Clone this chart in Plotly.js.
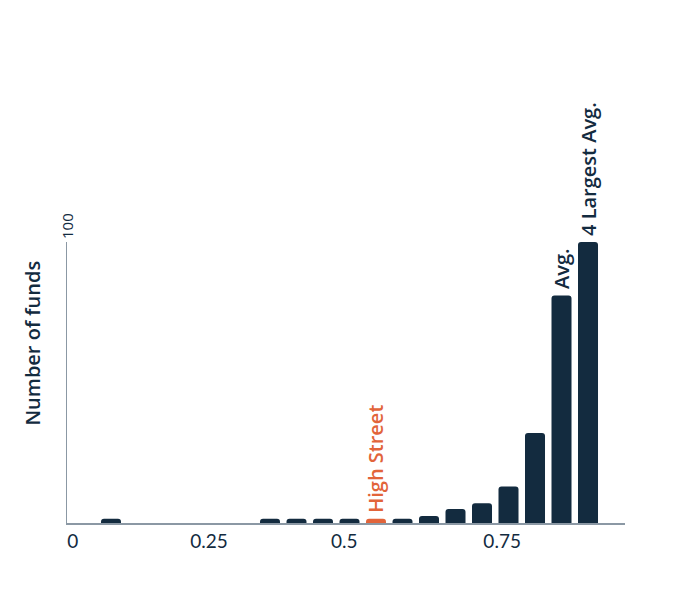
<!DOCTYPE html>
<html>
<head>
<meta charset="utf-8">
<script src="https://cdn.plot.ly/plotly-3.0.1.min.js"></script>
<style>
  html, body { margin: 0; padding: 0; background: #ffffff; }
  #chart { width: 680px; height: 615px; }
</style>
</head>
<body>
<div id="chart"></div>
<script>
// fee bins (bar centres) and number of funds in each
let bins = [0.05, 0.35, 0.40, 0.45, 0.50, 0.55, 0.60, 0.65, 0.70, 0.75, 0.80, 0.85, 0.90, 0.95];
let counts = [1.5, 1.5, 1.5, 1.5, 1.5, 1.5, 1.5, 2.5, 5, 7, 13, 32, 81, 100];
let bar_labels = ['', '', '', '', '', 'High Street', '', '', '', '', '', '', 'Avg.', '4 Largest Avg.'];

// tick labels as drawn under the axis
let tick_values = [-0.022, 0.235, 0.49, 0.788];
let tick_labels = ['0', '0.25', '0.5', '0.75'];

let navy = '#132b3f';
let orange = '#e2643a';
let axis_grey = '#8b98a4';
let label_font = '"Open Sans", sans-serif';

let bar_colors = bar_labels.map(function (l) { return l === 'High Street' ? orange : navy; });

let bars = {
    type: 'bar',
    x: bins,
    y: counts,
    marker: { color: bar_colors, cornerradius: 3 },
    hoverinfo: 'x+y',
    showlegend: false
};

let annotations = [];
for (let i = 0; i < bins.length; ++i) {
    if (bar_labels[i] === '') continue;
    annotations.push({
        x: bins[i],
        y: counts[i],
        xref: 'x',
        yref: 'y',
        text: bar_labels[i],
        textangle: -90,
        showarrow: false,
        xanchor: 'center',
        yanchor: 'bottom',
        yshift: 4,
        font: { family: label_font, size: 20, color: bar_colors[i], weight: 600 }
    });
}

// top value of the y axis, drawn above the axis line
annotations.push({
    x: 0,
    y: 100,
    xref: 'paper',
    yref: 'y',
    text: '100',
    textangle: -90,
    showarrow: false,
    xanchor: 'center',
    yanchor: 'bottom',
    yshift: 1,
    font: { family: label_font, size: 15, color: navy }
});

// axis title
annotations.push({
    x: -0.062,
    y: 0.64,
    xref: 'paper',
    yref: 'paper',
    text: 'Number of funds',
    textangle: -90,
    showarrow: false,
    xanchor: 'center',
    yanchor: 'middle',
    font: { family: label_font, size: 20, color: navy, weight: 600 }
});

let layout = {
    width: 680,
    height: 615,
    margin: { l: 67, r: 55, t: 242, b: 92 },
    paper_bgcolor: '#ffffff',
    plot_bgcolor: '#ffffff',
    bargap: 0.245,
    xaxis: {
        range: [-0.033, 1.0198],
        tickvals: tick_values,
        ticktext: tick_labels,
        ticks: '',
        ticklabelstandoff: 1,
        showgrid: false,
        zeroline: false,
        showline: true,
        linecolor: axis_grey,
        linewidth: 1.5,
        tickfont: { family: 'Lato, sans-serif', size: 19, color: navy }
    },
    yaxis: {
        range: [0, 100],
        showticklabels: false,
        ticks: '',
        showgrid: false,
        zeroline: false,
        showline: true,
        linecolor: axis_grey,
        linewidth: 1.5
    },
    annotations: annotations
};

Plotly.newPlot('chart', [bars], layout, { displayModeBar: false, staticPlot: true });
</script>
</body>
</html>
